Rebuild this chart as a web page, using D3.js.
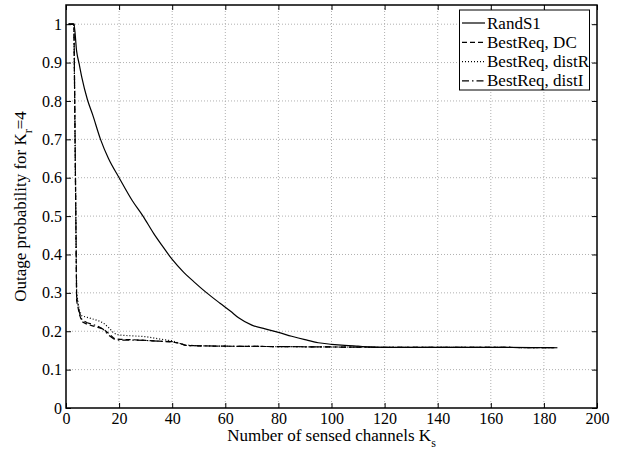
<!DOCTYPE html>
<html><head><meta charset="utf-8">
<script src="https://cdn.jsdelivr.net/npm/d3@7"></script>
<style>body{margin:0;background:#fff}svg{display:block}</style>
</head><body>
<svg id="c" width="622" height="450"></svg>
<script>
// ---- data ----
const xTicks = [0,20,40,60,80,100,120,140,160,180,200];
const yTicks = [0,0.1,0.2,0.3,0.4,0.5,0.6,0.7,0.8,0.9,1];
const yTickLabels = ["0","0.1","0.2","0.3","0.4","0.5","0.6","0.7","0.8","0.9","1"];
const seriesNames = ["RandS1","BestReq, DC","BestReq, distR","BestReq, distI"];

const randS1K = [1,2,3,4,5,6,8,10,13,16,20,25,29,33,36,40,44,48,53,58,62,65,70,75,80,85,90,95,100,105,110,115,120,140,160,185];
const randS1P = [1,1,1,0.93,0.895,0.86,0.805,0.765,0.70,0.65,0.60,0.54,0.50,0.455,0.425,0.387,0.356,0.33,0.30,0.273,0.252,0.235,0.216,0.206,0.197,0.187,0.178,0.170,0.166,0.163,0.161,0.159,0.158,0.158,0.158,0.157];

const bestK = [1,2,3,4,5,6,8,10,12,14,16,18,20,25,30,35,40,43,45,50,60,80,100,120,140,160,185];
const dcP    = [1,1,1,0.28,0.245,0.225,0.218,0.214,0.210,0.206,0.195,0.182,0.179,0.178,0.176,0.174,0.172,0.168,0.163,0.162,0.161,0.160,0.159,0.158,0.158,0.158,0.157];
const distRP = [1,1,1,0.30,0.255,0.240,0.236,0.232,0.228,0.222,0.210,0.195,0.190,0.188,0.186,0.180,0.175,0.168,0.164,0.162,0.161,0.160,0.159,0.158,0.158,0.158,0.157];
const distIP = [1,1,1,0.29,0.250,0.230,0.222,0.218,0.213,0.205,0.190,0.180,0.177,0.177,0.176,0.174,0.173,0.168,0.163,0.162,0.161,0.160,0.159,0.158,0.158,0.158,0.157];

// ---- layout ----
const L = 66, R = 597, T = 5, B = 408;
const font = "Liberation Serif, Times New Roman, serif";
const svg = d3.select("#c");
const x = d3.scaleLinear().domain([0,200]).range([L,R]);
const y = d3.scaleLinear().domain([0,1.05]).range([B,T]);

// grid
const g = svg.append("g");
g.selectAll(".gx").data(xTicks.slice(1,-1)).enter().append("line")
  .attr("x1",d=>x(d)).attr("x2",d=>x(d)).attr("y1",T).attr("y2",B)
  .attr("stroke","#b0b0b0").attr("stroke-width",1).attr("stroke-dasharray","1,2");
g.selectAll(".gy").data(yTicks.slice(1)).enter().append("line")
  .attr("y1",d=>y(d)).attr("y2",d=>y(d)).attr("x1",L).attr("x2",R)
  .attr("stroke","#b0b0b0").attr("stroke-width",1).attr("stroke-dasharray","1,2");

// axes with inward ticks
const tl = 5;
svg.append("g").attr("transform",`translate(0,${B})`)
  .call(d3.axisBottom(x).tickValues(xTicks).tickSize(-tl).tickPadding(5))
  .call(a=>{a.select(".domain").remove();});
svg.append("g").attr("transform",`translate(0,${T})`)
  .call(d3.axisTop(x).tickValues(xTicks).tickSize(-tl).tickFormat(""))
  .call(a=>{a.select(".domain").remove();});
svg.append("g").attr("transform",`translate(${L},0)`)
  .call(d3.axisLeft(y).tickValues(yTicks).tickSize(-tl).tickPadding(4).tickFormat((d,i)=>yTickLabels[i]))
  .call(a=>{a.select(".domain").remove();});
svg.append("g").attr("transform",`translate(${R},0)`)
  .call(d3.axisRight(y).tickValues(yTicks).tickSize(-tl).tickFormat(""))
  .call(a=>{a.select(".domain").remove();});
svg.selectAll(".tick text").attr("font-family",font).attr("font-size",16).attr("fill","#000");
svg.selectAll(".tick line").attr("stroke","#000");

// series
const line = d3.line().x(d=>x(d[0])).y(d=>y(d[1]));
const series = [
  {k:randS1K, p:randS1P, dash:null, curve:d3.curveMonotoneX},
  {k:bestK, p:dcP, dash:"5,3", curve:d3.curveLinear},
  {k:bestK, p:distRP, dash:"1,2", curve:d3.curveLinear},
  {k:bestK, p:distIP, dash:"7,3,1.5,3", curve:d3.curveLinear}
];
series.forEach(s=>{
  svg.append("path").datum(s.k.map((k,i)=>[k,s.p[i]]))
    .attr("d",line.curve(s.curve)).attr("fill","none").attr("stroke","#000").attr("stroke-width",1.2)
    .attr("stroke-dasharray",s.dash);
});

// box
svg.append("rect").attr("x",L).attr("y",T).attr("width",R-L).attr("height",B-T)
  .attr("fill","none").attr("stroke","#000").attr("stroke-width",1.5);

// legend
const lg = svg.append("g");
lg.append("rect").attr("x",459.5).attr("y",10).attr("width",130).attr("height",80)
  .attr("fill","#fff").attr("stroke","#000").attr("stroke-width",1);
seriesNames.forEach((n,i)=>{
  const yy = 23 + i*19.3;
  lg.append("line").attr("x1",462).attr("x2",485).attr("y1",yy).attr("y2",yy)
    .attr("stroke","#000").attr("stroke-width",1.2).attr("stroke-dasharray",series[i].dash);
  lg.append("text").attr("x",487).attr("y",yy+5.5).text(n)
    .attr("font-family",font).attr("font-size",17);
});

// axis labels
const xl = svg.append("text").attr("x",(L+R)/2).attr("y",441).attr("text-anchor","middle")
  .attr("font-family",font).attr("font-size",17);
xl.append("tspan").text("Number of sensed channels K");
xl.append("tspan").attr("dy",6).attr("font-size",12).text("s");

const yl = svg.append("text").attr("transform",`translate(26,${(T+B)/2}) rotate(-90)`)
  .attr("text-anchor","middle").attr("font-family",font).attr("font-size",17);
yl.append("tspan").text("Outage probability for K");
yl.append("tspan").attr("dy",6).attr("font-size",12).text("r");
yl.append("tspan").attr("dy",-6).text("=4");
</script>
</body></html>
